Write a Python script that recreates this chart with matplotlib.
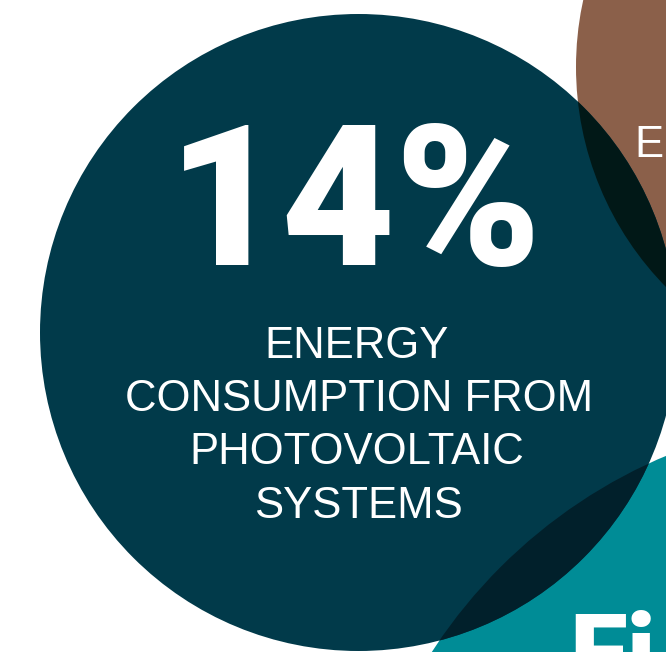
import matplotlib
matplotlib.use("Agg")
import matplotlib.pyplot as plt
from matplotlib.patches import Circle
from matplotlib.textpath import TextPath
from matplotlib.font_manager import FontProperties

# ---------------- content ----------------
headline_value = "14%"
headline_label = ["ENERGY", "CONSUMPTION FROM", "PHOTOVOLTAIC", "SYSTEMS"]
right_label = "E"
bottom_label = "Fi"

# ---------------- layout (pixel space) ----------------
W, H, DPI = 666, 652, 100
PX2PT = 72.0 / DPI

main_c = (358.5, 332.5, 318.5)
brown_c = (890.0, 67.0, 314.0)
teal_c = (868.0, 935.0, 520.0)

col_main = "#013A4A"
col_brown = "#8B604A"
col_teal = "#008C96"
col_lens_brown = "#011817"
col_lens_teal = "#01202B"

bold_fp = FontProperties(family="Roboto", weight="black")
body_fp = FontProperties(family="Liberation Sans", weight="normal")

fig = plt.figure(figsize=(W / DPI, H / DPI), dpi=DPI)
fig.patch.set_facecolor("white")
ax = fig.add_axes([0, 0, 1, 1])
ax.set_xlim(0, W)
ax.set_ylim(H, 0)
ax.set_aspect("equal")
ax.axis("off")

def circ(c, color, z):
    p = Circle((c[0], c[1]), c[2], facecolor=color, edgecolor="none", zorder=z)
    ax.add_patch(p)
    return p

circ(brown_c, col_brown, 1)
circ(teal_c, col_teal, 1)
main = circ(main_c, col_main, 2)
lb = circ(brown_c, col_lens_brown, 3)
lb.set_clip_path(main)
lt = circ(teal_c, col_lens_teal, 3)
lt.set_clip_path(main)


def ink(text, fp):
    ext = TextPath((0, 0), text, size=100, prop=fp).get_extents()
    return ext.x0, ext.x1, ext.y0, ext.y1


def place(text, fp, size_px, baseline, left=None, center=None, z=5):
    x0, x1, _, _ = ink(text, fp)
    s = size_px / 100.0
    if center is not None:
        x = center - (x0 + x1) / 2 * s
    else:
        x = left - x0 * s
    ax.text(x, baseline, text, fontproperties=fp, fontsize=size_px * PX2PT,
            color="white", ha="left", va="baseline", zorder=z)


# headline number: cap height ~140 px, baseline 265
_, _, y0, y1 = ink("14", bold_fp)
head_px = 140.0 * 100.0 / (y1 - y0)
place(headline_value, bold_fp, head_px, 265, center=359)

# label lines
x0, x1, y0, y1 = ink("CONSUMPTION FROM", body_fp)
px_w = 478.0 * 100.0 / (x1 - x0)
_, _, e0, e1 = ink("E", body_fp)
px_h = 29.0 * 100.0 / (e1 - e0)
body_px = (px_w * px_h) ** 0.5
baselines = [357.5, 411.0, 464.5, 518.5]
for line, b in zip(headline_label, baselines):
    place(line, body_fp, body_px, b, center=358)

# partial labels on the neighbouring circles
place(right_label, body_fp, 30.0 * 100.0 / (e1 - e0), 157, left=638)
_, _, f0, f1 = ink("F", bold_fp)
fi_px = 75.0 * 100.0 / (f1 - f0)
place(bottom_label, bold_fp, fi_px, 614 + 75, left=575)

fig.savefig("out.png", dpi=DPI, facecolor="white")
